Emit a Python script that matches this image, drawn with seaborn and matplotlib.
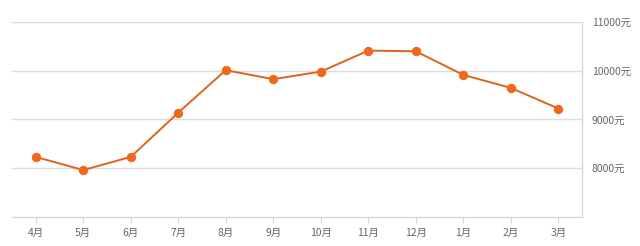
import matplotlib
matplotlib.use("Agg")
import matplotlib.pyplot as plt
import seaborn as sns
import pandas as pd

months = ["4月", "5月", "6月", "7月", "8月", "9月", "10月", "11月", "12月", "1月", "2月", "3月"]
prices = [8230, 7960, 8230, 9140, 10015, 9830, 9985, 10417, 10404, 9918, 9651, 9226]
y_ticks = [8000, 9000, 10000, 11000]
y_tick_labels = ["8000元", "9000元", "10000元", "11000元"]

sns.set_theme(style="white")
plt.rcParams['font.family'] = ['Noto Sans CJK SC', 'DejaVu Sans']

df = pd.DataFrame({"month": months, "price": prices})

fig = plt.figure(figsize=(6.4, 2.46), dpi=100)
ax = fig.add_axes([12 / 640, (246 - 216.7) / 246, (582 - 12) / 640, (216.7 - 22.3) / 246])

sns.lineplot(data=df, x="month", y="price", sort=False, ax=ax,
             color="#dc641e", linewidth=1.4, marker="o", markersize=6,
             markerfacecolor="#ee6a1a", markeredgecolor="#ee6a1a")

ax.set_xlim(-0.5, len(months) - 0.5)
ax.set_ylim(7000, 11000)
ax.set_yticks(y_ticks)
ax.set_yticklabels(y_tick_labels)
ax.yaxis.tick_right()
ax.yaxis.grid(True, color="#dcdcdc", linewidth=1)
ax.xaxis.grid(False)
ax.set_xlabel("")
ax.set_ylabel("")

for s in ["top", "left"]:
    ax.spines[s].set_visible(False)
for s in ["right", "bottom"]:
    ax.spines[s].set_color("#d8d8d8")
    ax.spines[s].set_linewidth(1)

ax.tick_params(axis="y", length=0, pad=7, labelsize=7.5, labelcolor="#666666")
ax.tick_params(axis="x", length=4, width=0.8, color="#d8d8d8", pad=4,
               labelsize=7.5, labelcolor="#666666", bottom=True)

fig.savefig("out.png", dpi=100, facecolor="white")
